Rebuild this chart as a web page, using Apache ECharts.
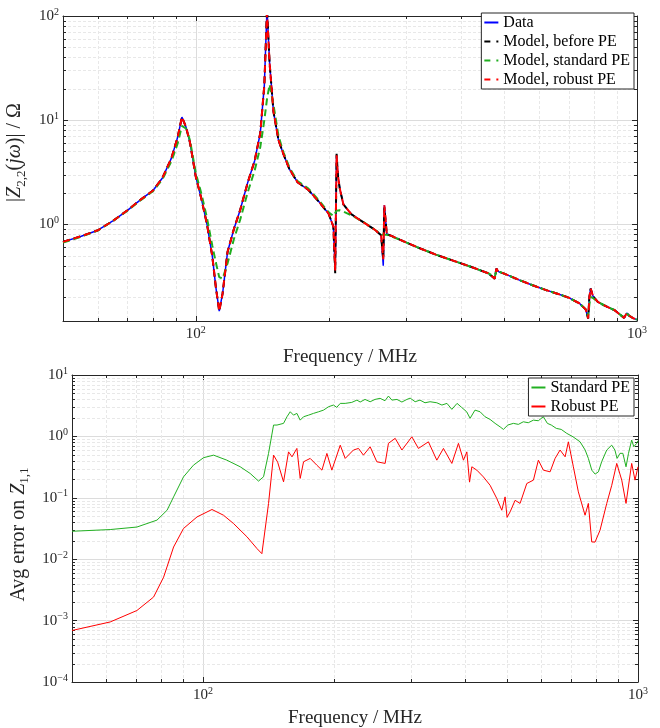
<!DOCTYPE html>
<html>
<head>
<meta charset="utf-8">
<script src="https://cdn.jsdelivr.net/npm/echarts@6/dist/echarts.min.js"></script>
<style>
html,body{margin:0;padding:0;background:#fff}
#chart{width:660px;height:728px}
</style>
</head>
<body>
<div id="chart"></div>
<script>
// top plot: |Z22| vs frequency (MHz)
var freqTop = [50, 55, 60, 65, 70, 75, 80, 84, 88, 91, 93, 95, 97, 100, 103, 106, 109, 111, 113, 115,
  118, 122, 126, 131, 136, 140, 143, 145, 147, 150, 154, 158, 163, 170, 180, 190, 200, 205, 207, 208.5,
  210, 212, 216, 225, 240, 255, 263, 266, 267.5, 271, 276, 290, 320, 350, 380, 420, 460, 476, 480, 485,
  500, 540, 580, 620, 660, 700, 740, 765, 775, 780, 785, 795, 815, 850, 890, 920, 935, 948, 960, 980, 1000];
var zData = [0.676, 0.767, 0.875, 1.08, 1.36, 1.72, 2.11, 2.78, 4.29, 6.9, 10.7, 8.6, 6.1, 2.85, 1.74, 1.0, 0.49, 0.25, 0.146, 0.216,
  0.54, 0.9, 1.36, 2.48, 4.1, 7.5, 21.7, 118, 35, 12, 6.4, 4.7, 3.38, 2.53, 2.13, 1.65, 1.26, 0.95, 0.353, 4.6,
  2.9, 2.2, 1.55, 1.25, 1.04, 0.88, 0.784, 0.40, 1.52, 0.80, 0.78, 0.71, 0.593, 0.51, 0.452, 0.39, 0.338, 0.30, 0.375, 0.35,
  0.335, 0.292, 0.259, 0.234, 0.215, 0.197, 0.174, 0.152, 0.124, 0.2, 0.241, 0.203, 0.179, 0.163, 0.149, 0.133, 0.126, 0.140, 0.132, 0.125, 0.121];
var zBefore = [0.676, 0.767, 0.875, 1.08, 1.36, 1.72, 2.11, 2.78, 4.29, 6.9, 10.7, 8.6, 6.1, 2.85, 1.74, 1.0, 0.49, 0.25, 0.146, 0.216,
  0.54, 0.9, 1.36, 2.48, 4.1, 7.5, 21.7, 118, 35, 12, 6.4, 4.7, 3.38, 2.53, 2.13, 1.65, 1.26, 0.95, 0.338, 4.75,
  2.9, 2.2, 1.55, 1.25, 1.04, 0.88, 0.784, 0.46, 1.45, 0.80, 0.78, 0.71, 0.593, 0.51, 0.452, 0.39, 0.338, 0.30, 0.375, 0.35,
  0.335, 0.292, 0.259, 0.234, 0.215, 0.197, 0.174, 0.152, 0.124, 0.2, 0.241, 0.203, 0.179, 0.163, 0.149, 0.133, 0.126, 0.140, 0.132, 0.125, 0.121];
var zStandard = [0.665, 0.76, 0.87, 1.08, 1.35, 1.7, 2.08, 2.7, 4.0, 6.0, 8.8, 8.3, 6.4, 3.1, 1.95, 1.15, 0.62, 0.43, 0.31, 0.30,
  0.42, 0.72, 1.1, 2.0, 3.3, 5.5, 10, 16, 22, 14, 7, 4.9, 3.5, 2.6, 2.2, 1.7, 1.3, 1.2, 1.22, 1.35,
  1.38, 1.36, 1.32, 1.22, 1.05, 0.88, 0.80, 0.79, 0.80, 0.79, 0.77, 0.71, 0.593, 0.51, 0.452, 0.39, 0.338, 0.31, 0.36, 0.35,
  0.335, 0.292, 0.259, 0.234, 0.215, 0.197, 0.174, 0.152, 0.13, 0.17, 0.2, 0.195, 0.179, 0.163, 0.149, 0.133, 0.127, 0.138, 0.132, 0.125, 0.121];
var zRobust = [0.676, 0.767, 0.875, 1.08, 1.36, 1.72, 2.11, 2.78, 4.29, 6.9, 10.7, 8.6, 6.1, 2.85, 1.74, 1.0, 0.49, 0.25, 0.146, 0.216,
  0.54, 0.9, 1.36, 2.48, 4.1, 7.5, 21.7, 107, 35, 12, 6.4, 4.7, 3.38, 2.53, 2.13, 1.65, 1.26, 0.95, 0.36, 4.6,
  2.9, 2.2, 1.55, 1.25, 1.04, 0.88, 0.784, 0.46, 1.52, 0.80, 0.78, 0.71, 0.593, 0.51, 0.452, 0.39, 0.338, 0.30, 0.375, 0.35,
  0.335, 0.292, 0.259, 0.234, 0.215, 0.197, 0.174, 0.152, 0.124, 0.2, 0.241, 0.203, 0.179, 0.163, 0.149, 0.133, 0.126, 0.140, 0.132, 0.125, 0.121];

// bottom plot: average error on Z11
var freqStd = [50, 61.2, 70.5, 78.4, 82.7, 85.6, 90.2, 95.1, 100.3, 105.8, 113.5, 121.8, 128.4, 134.2, 137.8, 141.5, 145.3,
  148, 153.2, 156, 158.7, 161.5, 164.4, 167.3, 170.3, 174.9, 179.5, 184.5, 189.3, 194.3, 199.5, 203, 206.8, 212.3, 219.8, 225.9, 229.8,
  235.8, 242.3, 248.6, 255.3, 262.1, 266.9, 271.8, 279.2, 286.6, 294.3, 299.4, 307.4, 315.4, 323.9, 332.7, 344.8, 354.2, 363.8, 373.3, 383.8,
  393.1, 403.8, 411.2, 422, 433.5, 445, 457.1, 469.4, 482, 490.5, 502, 517, 531, 545, 559.5, 574.9, 590, 606, 619, 632,
  649, 666, 686, 709, 736, 756, 769, 783, 797, 811, 825, 847.5, 870, 885, 895, 909, 923, 938.6, 951, 967, 978, 993, 1000];
var errStd = [0.0285, 0.0304, 0.0334, 0.0433, 0.0627, 0.1035, 0.219, 0.34, 0.45, 0.495, 0.41, 0.32, 0.249, 0.187, 0.22, 0.528, 1.53,
  1.53, 1.63, 2.09, 2.52, 2.22, 2.37, 1.84, 2.09, 2.22, 2.37, 2.52, 2.68, 3.04, 3.24, 2.97, 3.45, 3.45, 3.58, 3.9, 3.63,
  4.0, 3.67, 4.0, 4.17, 3.81, 4.54, 3.9, 4.0, 3.63, 4.0, 4.2, 3.67, 3.9, 3.53, 3.67, 3.53, 3.24, 3.45, 2.76, 3.45,
  2.97, 2.52, 1.97, 2.68, 2.52, 2.09, 1.89, 1.63, 1.43, 1.30, 1.53, 1.63, 1.57, 1.73, 1.67, 1.84, 1.8, 2.09, 1.63, 1.53,
  1.35, 1.3, 1.12, 0.985, 0.816, 0.6, 0.438, 0.282, 0.243, 0.265, 0.386, 0.6, 0.72, 0.6, 0.438, 0.53, 0.53, 0.32, 0.53, 0.87, 0.68, 0.77, 0.85];
var freqRob = [50, 61.2, 70.5, 77, 81.2, 85.6, 90.2, 96.9, 104.9, 111.5, 117.6, 126.2, 133.1, 136.6, 141.5, 145.3, 148.5, 153.2, 157.3, 160.2,
  164.4, 167.3, 170.3, 176.4, 182.7, 187.7, 192.7, 197.8, 206.8, 212.3, 221.8, 227.8, 233.8, 242.3, 251, 262.3, 266.9, 276.6, 286.6, 302.1,
  312.8, 329.8, 344.8, 357.1, 373.3, 386.6, 397, 404.2, 410, 415, 426.1, 441.2, 457.1, 473.6, 486.3, 494.9, 500, 508.2, 521.8, 535.7,
  555.1, 574.9, 590.2, 606.1, 628, 644.8, 662, 680, 691.8, 710.3, 729.3, 755.6, 768.9, 782.8, 796.6, 817.9, 847.5, 870.3, 893.6, 917.6,
  938.6, 967.2, 984.2, 1000];
var errRob = [0.00069, 0.00095, 0.00146, 0.00242, 0.0051, 0.0158, 0.0316, 0.0488, 0.0645, 0.052, 0.038, 0.0232, 0.0149, 0.0123, 0.0808, 0.495, 0.38, 0.182, 0.56, 0.465,
  0.637, 0.207, 0.386, 0.438, 0.34, 0.282, 0.528, 0.282, 0.72, 0.438, 0.6, 0.637, 0.495, 0.677, 0.386, 0.363, 0.77, 0.93, 0.6, 0.985,
  0.637, 0.816, 0.41, 0.637, 0.363, 0.77, 0.41, 0.56, 0.18, 0.32, 0.282, 0.219, 0.16, 0.0975, 0.0627, 0.1035, 0.048, 0.059, 0.091, 0.081,
  0.171, 0.194, 0.41, 0.282, 0.265, 0.438, 0.6, 0.465, 0.816, 0.32, 0.125, 0.052, 0.081, 0.0191, 0.019, 0.0296, 0.081, 0.16, 0.363, 0.194,
  0.081, 0.363, 0.194, 0.32];

// minor grid positions (log axes)
var xMinor = [60, 70, 80, 90, 200, 300, 400, 500, 600, 700, 800, 900];
var yMinorTop = [0.2, 0.3, 0.4, 0.5, 0.6, 0.7, 0.8, 0.9, 2, 3, 4, 5, 6, 7, 8, 9, 20, 30, 40, 50, 60, 70, 80, 90];
var yMinorBottom = [];
[0.0001, 0.001, 0.01, 0.1, 1].forEach(function (d) {
  for (var k = 2; k <= 9; k++) yMinorBottom.push(+(d * k).toPrecision(3));
});

var FONT = 'Liberation Serif';
var AX = '#262626';
var ICON_SOLID = 'path://M0,0H14V2H0Z';
var ICON_DASH = 'path://M0,0H6V2H0Z M12,0H14V2H12Z';

function pairs(xs, ys) {
  return xs.map(function (x, i) { return [x, ys[i]]; });
}

function pow10Label(v) {
  var l = Math.log10(v);
  var e = Math.round(l);
  if (Math.abs(l - e) > 1e-6) return '';
  return '{b|10}{s|' + (e < 0 ? '\u2212' + (-e) : e) + '}';
}
var labelRich = {
  b: { fontFamily: FONT, fontSize: 15, color: AX, lineHeight: 18 },
  s: { fontFamily: FONT, fontSize: 10, color: AX, lineHeight: 10, verticalAlign: 'top' }
};

function xAx(grid, pos, main) {
  return {
    type: 'log', logBase: 10, min: 50, max: 1000, gridIndex: grid, position: pos,
    axisLine: { show: true, onZero: false, lineStyle: { color: AX, width: 1 } },
    axisTick: { show: true, inside: true, length: 5, lineStyle: { color: AX } },
    axisLabel: { show: main, formatter: pow10Label, rich: labelRich, margin: 4 },
    splitLine: { show: main, lineStyle: { color: '#dcdcdc' } },
    name: main ? 'Frequency / MHz' : '', nameLocation: 'middle', nameGap: 27,
    nameTextStyle: { fontFamily: FONT, fontSize: 19, color: AX }
  };
}
function yAx(grid, pos, main, min, max, name, gap, pad) {
  return {
    type: 'log', logBase: 10, min: min, max: max, gridIndex: grid, position: pos,
    axisLine: { show: true, onZero: false, lineStyle: { color: AX, width: 1 } },
    axisTick: { show: true, inside: true, length: 5, lineStyle: { color: AX } },
    axisLabel: { show: main, formatter: pow10Label, rich: labelRich, margin: 4 },
    splitLine: { show: main, lineStyle: { color: '#dcdcdc' } },
    name: main ? name : '', nameLocation: 'middle', nameGap: gap, nameRotate: 90,
    nameTextStyle: {
      fontFamily: FONT, fontSize: 20, color: AX, lineHeight: 26, padding: pad || 0,
      rich: {
        i: { fontFamily: FONT, fontSize: 20, fontStyle: 'italic', color: AX, lineHeight: 26 },
        u: { fontFamily: FONT, fontSize: 13, color: AX, lineHeight: 13, verticalAlign: 'bottom' }
      }
    }
  };
}

function minorXSeries(xi, yi) {
  return {
    type: 'custom', xAxisIndex: xi, yAxisIndex: yi, silent: true, z: 1,
    data: xMinor.map(function (v) { return [v, 1]; }),
    renderItem: function (params, api) {
      var cs = params.coordSys;
      var x = Math.round(api.coord([api.value(0), 1])[0]) + 0.5;
      var b = cs.y + cs.height;
      return { type: 'group', children: [
        { type: 'line', shape: { x1: x, y1: cs.y, x2: x, y2: b }, style: { stroke: '#e8e8e8', lineWidth: 1, lineDash: [3, 2] } },
        { type: 'line', shape: { x1: x, y1: b, x2: x, y2: b - 3 }, style: { stroke: AX, lineWidth: 1 } },
        { type: 'line', shape: { x1: x, y1: cs.y, x2: x, y2: cs.y + 3 }, style: { stroke: AX, lineWidth: 1 } }
      ] };
    }
  };
}
function minorYSeries(xi, yi, vals) {
  return {
    type: 'custom', xAxisIndex: xi, yAxisIndex: yi, silent: true, z: 1,
    data: vals.map(function (v) { return [100, v]; }),
    renderItem: function (params, api) {
      var cs = params.coordSys;
      var y = Math.round(api.coord([100, api.value(1)])[1]) + 0.5;
      var r = cs.x + cs.width;
      return { type: 'group', children: [
        { type: 'line', shape: { x1: cs.x, y1: y, x2: r, y2: y }, style: { stroke: '#e8e8e8', lineWidth: 1, lineDash: [3, 2] } },
        { type: 'line', shape: { x1: cs.x, y1: y, x2: cs.x + 3, y2: y }, style: { stroke: AX, lineWidth: 1 } },
        { type: 'line', shape: { x1: r, y1: y, x2: r - 3, y2: y }, style: { stroke: AX, lineWidth: 1 } }
      ] };
    }
  };
}

function lineSeries(name, xi, yi, data, color, width, dashed, z) {
  return {
    name: name, type: 'line', xAxisIndex: xi, yAxisIndex: yi, data: data,
    symbol: 'none', showSymbol: false, z: z, clip: true,
    lineStyle: { color: color, width: width, type: dashed ? [7, 4] : 'solid' },
    itemStyle: { color: color }
  };
}

var legendBase = {
  orient: 'vertical', right: 26, itemWidth: 14, itemHeight: 2, itemGap: 2,
  padding: [1, 4, 1, 3], borderColor: AX, borderWidth: 1, backgroundColor: '#fff',
  textStyle: { fontFamily: FONT, fontSize: 16, color: '#000', lineHeight: 17 }
};

var chart = echarts.init(document.getElementById('chart'), null, { renderer: 'canvas' });
chart.setOption({
  animation: false,
  backgroundColor: '#fff',
  grid: [
    { left: 63, top: 16, width: 574, height: 305, containLabel: false, outerBoundsMode: 'none' },
    { left: 72, top: 375, width: 566, height: 307, containLabel: false, outerBoundsMode: 'none' }
  ],
  legend: [
    Object.assign({}, legendBase, { top: 13, data: [
      { name: 'Data', icon: ICON_SOLID },
      { name: 'Model, before PE', icon: ICON_DASH },
      { name: 'Model, standard PE', icon: ICON_DASH },
      { name: 'Model, robust PE', icon: ICON_DASH }
    ] }),
    Object.assign({}, legendBase, { top: 378, data: [
      { name: 'Standard PE', icon: ICON_SOLID },
      { name: 'Robust PE', icon: ICON_SOLID }
    ] })
  ],
  xAxis: [xAx(0, 'bottom', true), xAx(0, 'top', false), xAx(1, 'bottom', true), xAx(1, 'top', false)],
  yAxis: [
    yAx(0, 'left', true, 0.1175, 100, '|{i|Z}{u|2,2}({i|j\u03c9})| / \u03a9', 25, [0, 0, 0, 32]),
    yAx(0, 'right', false, 0.1175, 100, '', 0),
    yAx(1, 'left', true, 0.0001, 10, 'Avg error on {i|Z}{u|1,1}', 34, [0, 12, 0, 0]),
    yAx(1, 'right', false, 0.0001, 10, '', 0)
  ],
  series: [
    minorXSeries(0, 0), minorYSeries(0, 0, yMinorTop),
    minorXSeries(2, 2), minorYSeries(2, 2, yMinorBottom),
    lineSeries('Data', 0, 0, pairs(freqTop, zData), '#0000ff', 1.5, false, 3),
    lineSeries('Model, before PE', 0, 0, pairs(freqTop, zBefore), '#000000', 2, true, 4),
    lineSeries('Model, standard PE', 0, 0, pairs(freqTop, zStandard), '#1fae1f', 2, true, 5),
    lineSeries('Model, robust PE', 0, 0, pairs(freqTop, zRobust), '#ff0000', 2, true, 6),
    lineSeries('Standard PE', 2, 2, pairs(freqStd, errStd), '#22b022', 1, false, 3),
    lineSeries('Robust PE', 2, 2, pairs(freqRob, errRob), '#ff0000', 1, false, 4)
  ]
});
</script>
</body>
</html>
